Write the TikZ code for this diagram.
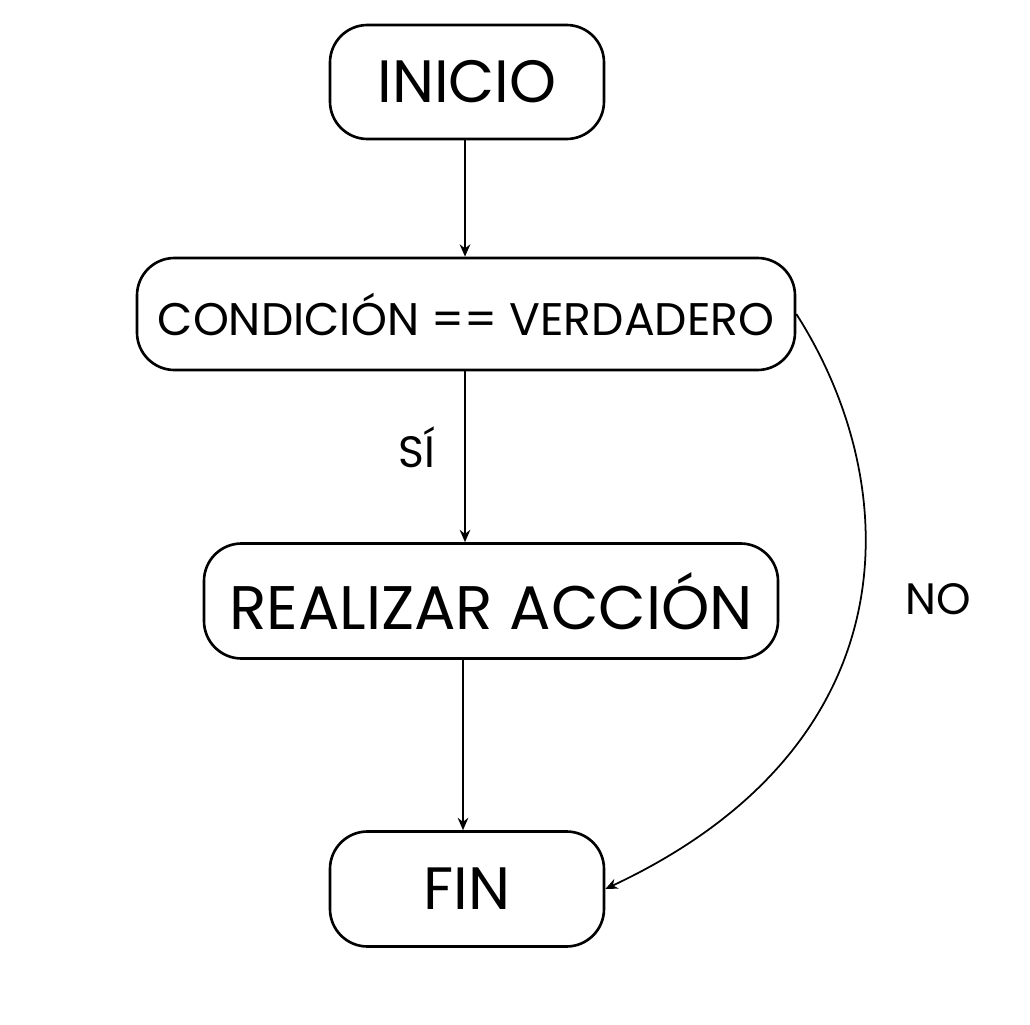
\documentclass[tikz,border=0pt]{standalone}
\usepackage{fontspec}
\setmainfont{Poppins}
\usetikzlibrary{arrows.meta,positioning}

\begin{document}
\begin{tikzpicture}[
    box/.style={draw, line width=1.5pt, rounded corners=0.75cm, align=center, inner sep=0pt},
    flow/.style={-{Stealth[length=7pt,width=6pt]}, line width=1pt}
]
\useasboundingbox (0,0) rectangle (20.6,20.48);

% Nodes
\node[box, minimum width=5.48cm, minimum height=2.28cm, font=\fontsize{34}{40}\selectfont] (inicio) at (9.34,18.84) {INICIO};
\node[box, minimum width=13.16cm, minimum height=2.24cm, font=\fontsize{26}{30}\selectfont] (cond) at (9.32,14.2) {CONDICIÓN == VERDADERO};
\node[box, minimum width=11.48cm, minimum height=2.3cm, font=\fontsize{35}{40}\selectfont] (accion) at (9.82,8.46) {REALIZAR ACCIÓN};
\node[box, minimum width=5.48cm, minimum height=2.3cm, font=\fontsize{34}{40}\selectfont] (fin) at (9.34,2.7) {FIN};

% Labels
\node[font=\fontsize{25}{30}\selectfont] (si) at (8.34,11.54) {SÍ};
\node[font=\fontsize{25}{30}\selectfont] (no) at (18.76,8.5) {NO};

% Connectors
\draw[flow] (inicio.south -| 9.3,0) -- (cond.north -| 9.3,0);
\draw[flow] (cond.south -| 9.3,0) -- (accion.north -| 9.3,0);
\draw[flow] (accion.south -| 9.26,0) -- (fin.north -| 9.26,0);
\draw[flow] (cond.east) .. controls (18.1,10.8) and (18.3,5.6) .. (fin.east);
\end{tikzpicture}
\end{document}
